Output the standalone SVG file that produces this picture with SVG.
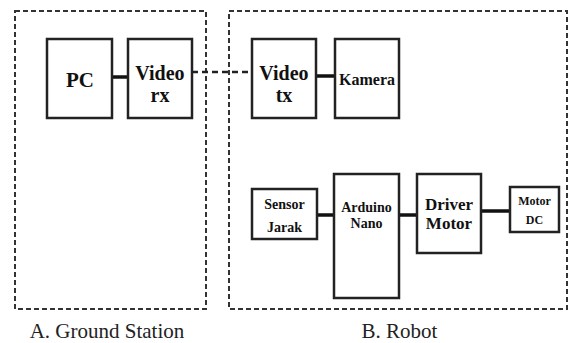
<svg xmlns="http://www.w3.org/2000/svg" width="568" height="343" viewBox="0 0 568 343">
<style>
.grp{fill:none;stroke:#333;stroke-width:2;stroke-dasharray:5 3}
.box{fill:#fff;stroke:#222;stroke-width:2.5}
.ln{stroke:#111;stroke-width:3.5;fill:none}
.dl{stroke:#222;stroke-width:2.5;fill:none;stroke-dasharray:6 4}
text{font-family:'Liberation Serif','Times New Roman',Times,'DejaVu Serif',serif;fill:#111;text-anchor:middle}
.b{font-weight:bold}
.cap{font-size:21px;fill:#222}
</style>
<rect width="568" height="343" fill="#fff"/>
<g id="groups">
<rect class="grp" x="15" y="11" width="191" height="298"/>
<rect class="grp" x="229" y="11" width="338" height="298"/>
<text class="cap" x="107" y="338">A. Ground Station</text>
<text class="cap" x="399.5" y="338">B. Robot</text>
</g>
<g id="connectors">
<line class="ln" x1="112" y1="77" x2="128" y2="77"/>
<line class="dl" x1="192" y1="72" x2="252" y2="72"/>
<line class="ln" x1="316" y1="76" x2="335" y2="76"/>
<line class="ln" x1="317" y1="215" x2="334" y2="215"/>
<line class="ln" x1="399" y1="215" x2="417" y2="215"/>
<line class="ln" x1="481" y1="211" x2="510" y2="211"/>
</g>
<g id="pc">
<rect class="box" x="47" y="39" width="65" height="79"/>
<text class="b" x="80" y="87" font-size="21">PC</text>
</g>
<g id="video-rx">
<rect class="box" x="128" y="39" width="64" height="79"/>
<text class="b" x="160" y="80" font-size="20">Video</text>
<text class="b" x="160" y="102" font-size="20">rx</text>
</g>
<g id="video-tx">
<rect class="box" x="252" y="39" width="64" height="79"/>
<text class="b" x="284" y="80" font-size="20">Video</text>
<text class="b" x="284" y="102" font-size="20">tx</text>
</g>
<g id="kamera">
<rect class="box" x="335" y="39" width="64" height="79"/>
<text class="b" x="367" y="85" font-size="16">Kamera</text>
</g>
<g id="sensor-jarak">
<rect class="box" x="252" y="189" width="65" height="50"/>
<text class="b" x="284.5" y="209" font-size="14">Sensor</text>
<text class="b" x="284.5" y="232" font-size="14">Jarak</text>
</g>
<g id="arduino-nano">
<rect class="box" x="334" y="174" width="65" height="124"/>
<text class="b" x="366.5" y="212" font-size="14">Arduino</text>
<text class="b" x="366.5" y="228" font-size="14">Nano</text>
</g>
<g id="driver-motor">
<rect class="box" x="417" y="174" width="64" height="79"/>
<text class="b" x="449" y="210" font-size="17">Driver</text>
<text class="b" x="449" y="229" font-size="17">Motor</text>
</g>
<g id="motor-dc">
<rect class="box" x="510" y="187" width="49" height="45"/>
<text class="b" x="534.5" y="205" font-size="12" fill="#2a2a5a">Motor</text>
<text class="b" x="534.5" y="224" font-size="12" fill="#2a2a5a">DC</text>
</g>
</svg>
